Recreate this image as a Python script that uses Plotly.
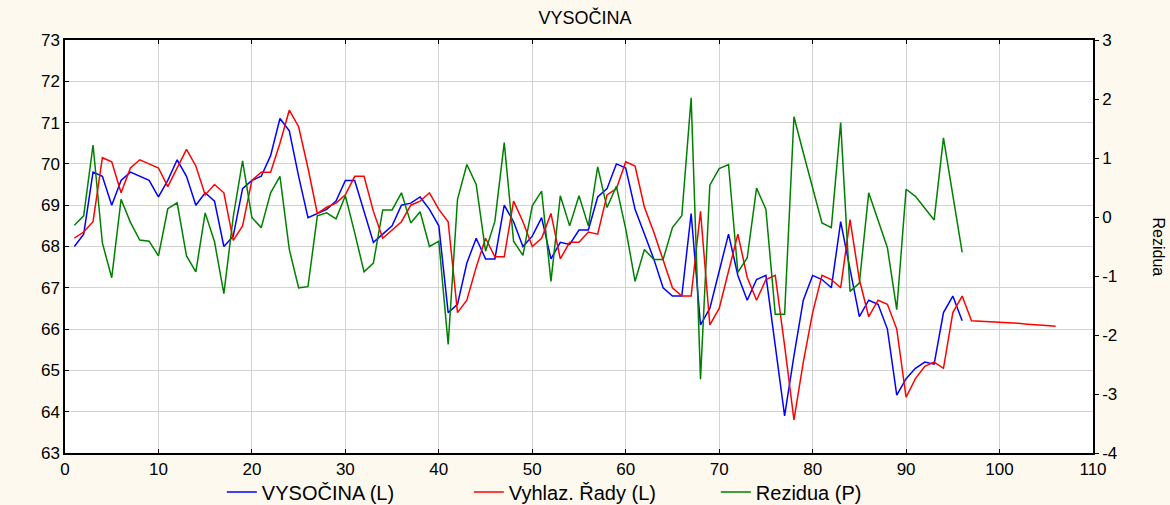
import plotly.graph_objects as go

x_obs = list(range(1, 97))
x_smooth = list(range(1, 107))

vysocina = [68.0, 68.3, 69.8, 69.7, 69.0, 69.6, 69.8, 69.7, 69.6, 69.2,
            69.6, 70.1, 69.7, 69.0, 69.3, 69.1, 68.0, 68.25, 69.4, 69.6,
            69.7, 70.2, 71.1, 70.8, 69.7, 68.7, 68.8, 68.9, 69.1, 69.6,
            69.6, 68.85, 68.1, 68.3, 68.5, 69.0, 69.05, 69.2, 68.9, 68.5,
            66.4, 66.6, 67.6, 68.2, 67.7, 67.7, 69.0, 68.6, 68.0, 68.25,
            68.7, 67.7, 68.1, 68.05, 68.4, 68.4, 69.2, 69.4, 70.0, 69.9,
            68.9, 68.3, 67.7, 67.0, 66.8, 66.8, 68.8, 66.1, 66.5, 67.4,
            68.3, 67.3, 66.7, 67.2, 67.3, 65.6, 63.9, 65.35, 66.7, 67.3,
            67.2, 67.0, 68.6, 67.45, 66.3, 66.7, 66.6, 66.0, 64.4, 64.8,
            65.05, 65.2, 65.15, 66.4, 66.8, 66.2]

vyhlazeni = [68.2, 68.35, 68.6, 70.15, 70.05, 69.3, 69.9, 70.1, 70.0, 69.9,
             69.45, 69.9, 70.35, 69.95, 69.25, 69.5, 69.3, 68.15, 68.5, 69.6,
             69.8, 69.8, 70.5, 71.3, 70.9, 69.9, 68.8, 68.95, 69.05, 69.25,
             69.7, 69.7, 68.85, 68.2, 68.4, 68.6, 69.0, 69.1, 69.3, 68.9,
             68.6, 66.4, 66.7, 67.5, 68.2, 67.75, 67.75, 69.1, 68.6, 68.0,
             68.2, 68.8, 67.7, 68.1, 68.1, 68.35, 68.3, 69.25, 69.4, 70.05,
             69.95, 68.95, 68.35, 67.7, 67.0, 66.8, 66.8, 68.85, 66.1, 66.5,
             67.4, 68.3, 67.25, 66.7, 67.2, 67.3, 65.6, 63.8, 65.2, 66.4,
             67.3, 67.2, 67.0, 68.65, 67.2, 66.3, 66.7, 66.6, 66.0, 64.35,
             64.8, 65.1, 65.2, 65.05, 66.4, 66.8, 66.2, 66.19, 66.17, 66.16,
             66.15, 66.14, 66.12, 66.11, 66.09, 66.07]

rezidua = [-0.14, 0.02, 1.22, -0.44, -1.03, 0.30, -0.09, -0.39, -0.41, -0.66,
           0.14, 0.24, -0.66, -0.93, 0.07, -0.42, -1.30, 0.0, 0.95, -0.01,
           -0.18, 0.41, 0.69, -0.55, -1.2, -1.18, 0.02, 0.07, -0.03, 0.36,
           -0.27, -0.93, -0.78, 0.12, 0.12, 0.41, -0.1, 0.09, -0.5, -0.41,
           -2.16, 0.30, 0.89, 0.55, -0.58, -0.07, 1.26, -0.41, -0.65, 0.19,
           0.44, -1.09, 0.36, -0.15, 0.36, -0.15, 0.85, 0.16, 0.52, -0.2,
           -1.09, -0.55, -0.72, -0.72, -0.18, 0.02, 2.02, -2.75, 0.54, 0.82,
           0.89, -0.94, -0.69, 0.49, 0.13, -1.65, -1.65, 1.70, 1.09, 0.5,
           -0.1, -0.18, 1.6, -1.26, -1.12, 0.41, -0.05, -0.52, -1.57, 0.47,
           0.35, 0.16, -0.05, 1.34, 0.37, -0.6]

left_ticks = list(range(63, 74))
right_ticks = list(range(-4, 4))
x_ticks = list(range(0, 111, 10))

FONT = "Liberation Sans, Arial, sans-serif"

fig = go.Figure()
fig.add_trace(go.Scatter(x=x_obs, y=vysocina, mode="lines", name="VYSOČINA (L)",
                         line=dict(color="#0000FF", width=1.5)))
fig.add_trace(go.Scatter(x=x_smooth, y=vyhlazeni, mode="lines", name="Vyhlaz. Řady (L)",
                         line=dict(color="#FF0000", width=1.5)))
fig.add_trace(go.Scatter(x=x_obs, y=rezidua, mode="lines", name="Rezidua (P)",
                         line=dict(color="#008000", width=1.5), yaxis="y2"))

fig.update_layout(
    width=1170, height=505,
    margin=dict(l=65, r=77, t=40, b=52, autoexpand=False),
    paper_bgcolor="#FEF9EE",
    plot_bgcolor="#FFFFFF",
    font=dict(family=FONT, size=16, color="#000000"),
    title=dict(text="VYSOČINA", x=0.5, xanchor="center", y=1 - 18 / 505, yanchor="middle",
               font=dict(family=FONT, size=18, color="#000000")),
    showlegend=True,
    legend=dict(orientation="h", x=0.513, xanchor="center", yref="container",
                y=1 - 492 / 505, yanchor="middle",
                font=dict(family=FONT, size=20), bgcolor="rgba(0,0,0,0)",
                entrywidth=202, entrywidthmode="pixels", tracegroupgap=0),
    xaxis=dict(range=[0, 110], tickvals=x_ticks, showgrid=True, gridcolor="#D3D3D3",
               gridwidth=1, zeroline=False, showline=True, linecolor="#000000", linewidth=1.5,
               mirror="ticks", ticks="inside", ticklen=4, tickcolor="#000000",
               tickfont=dict(size=17)),
    yaxis=dict(range=[63, 73], tickvals=left_ticks, showgrid=True, gridcolor="#D3D3D3",
               gridwidth=1, zeroline=False, showline=True, linecolor="#000000", linewidth=1.5,
               ticks="inside", ticklen=4, tickcolor="#000000", tickfont=dict(size=17)),
    yaxis2=dict(range=[-4, 3], tickvals=right_ticks, ticktext=[str(v) for v in right_ticks],
                overlaying="y", side="right", showgrid=False, zeroline=False, showline=True,
                linecolor="#000000", linewidth=1.5, ticks="outside", ticklen=4,
                tickcolor="#000000", tickfont=dict(size=17)),
    annotations=[dict(text="Rezidua", xref="paper", yref="paper", x=1 + 65 / 1028,
                      y=0.5, textangle=90, showarrow=False, xanchor="center",
                      yanchor="middle", font=dict(family=FONT, size=16))],
)

fig.write_html("out.html")
